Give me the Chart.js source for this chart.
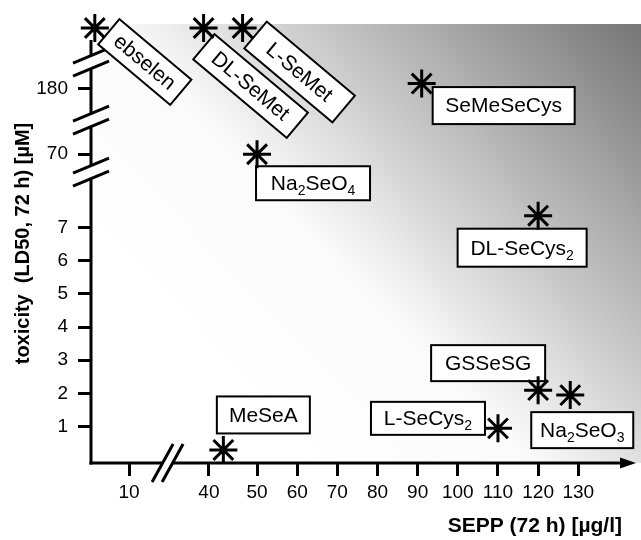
<!DOCTYPE html>
<html>
<head>
<meta charset="utf-8">
<script src="https://cdn.jsdelivr.net/npm/chart.js@4.4.0/dist/chart.umd.min.js"></script>
<style>
  html, body { margin: 0; padding: 0; background: #fff; }
  #wrap { width: 641px; height: 540px; }
</style>
</head>
<body>
<div id="wrap"><canvas id="chart"></canvas></div>
<script>
// compounds: SEPP (72 h) in µg/l vs. LD50 (72 h) in µM
const compounds = ['ebselen', 'DL-SeMet', 'L-SeMet', 'SeMeSeCys', 'Na2SeO4', 'DL-SeCys2', 'GSSeSG', 'Na2SeO3', 'L-SeCys2', 'MeSeA'];
const seppValues = [1, 38, 47, 91, 50, 120, 120, 128, 110, 43];
const ld50Values = [500, 500, 500, 186, 70, 7.35, 2.1, 1.95, 0.95, 0.3];

const xTickValues = [10, 40, 50, 60, 70, 80, 90, 100, 110, 120, 130];
const yTickValues = [1, 2, 3, 4, 5, 6, 7, 70, 180];

// broken axes: real value -> drawn axis unit
const xBreakReal = [0, 10, 40, 50, 130, 140];
const xBreakAxis = [0, 9.5, 29.4, 41.4, 121.5, 131.5];
const yBreakReal = [0, 8, 60, 80, 170, 200, 480, 520];
const yBreakAxis = [0, 8, 8.9, 9.5, 10.9, 11.7, 12.6, 13.4];

function toAxis(v, real, axis) {
    let i = 1;
    while (i < real.length - 1 && v > real[i]) i++;
    const t = (v - real[i - 1]) / (real[i] - real[i - 1]);
    return axis[i - 1] + t * (axis[i] - axis[i - 1]);
}

// where the break marks sit (axis units)
const xBreakMarks = [19.1];
const yBreakMarks = [8.66, 10.23, 11.97];

// label boxes: centre offset from the point, size, rotation
const labelLayout = [
    { dx: 50, dy: 34, w: 94, h: 33, rot: 40 },
    { dx: 47, dy: 58, w: 122, h: 33, rot: 40 },
    { dx: 57, dy: 44, w: 115, h: 35, rot: 40 },
    { dx: 82, dy: 22, w: 142, h: 37, rot: 0 },
    { dx: 56, dy: 29, w: 114, h: 34, rot: 0 },
    { dx: -16, dy: 32, w: 129, h: 38, rot: 0 },
    { dx: -50, dy: -27, w: 114, h: 36, rot: 0 },
    { dx: 12, dy: 35, w: 102, h: 36, rot: 0 },
    { dx: -70, dy: -10, w: 114, h: 33, rot: 0 },
    { dx: 40, dy: -35, w: 93, h: 37, rot: 0 }
];

const FONT = '"Liberation Sans", Arial, sans-serif';

function drawRich(ctx, text, x, y, size) {
    const runs = text.split(/(\d)/).filter(Boolean).map(s => ({ s, sub: /^\d$/.test(s) }));
    const main = size + 'px ' + FONT, small = Math.round(size * 0.68) + 'px ' + FONT;
    let total = 0;
    runs.forEach(r => { ctx.font = r.sub ? small : main; r.w = ctx.measureText(r.s).width; total += r.w; });
    let cx = x - total / 2;
    ctx.textAlign = 'left';
    ctx.textBaseline = 'middle';
    runs.forEach(r => {
        ctx.font = r.sub ? small : main;
        ctx.fillText(r.s, cx, r.sub ? y + 7 : y);
        cx += r.w;
    });
}

const decor = {
    id: 'decor',
    beforeDraw(chart) {
        const { ctx, chartArea: a } = chart;
        ctx.save();
        ctx.fillStyle = '#fff';
        ctx.fillRect(0, 0, chart.width, chart.height);
        const g = ctx.createLinearGradient(250, 400, 641, 24);
        g.addColorStop(0, '#ffffff');
        g.addColorStop(0.3, '#fafafa');
        g.addColorStop(1, '#767676');
        ctx.fillStyle = g;
        ctx.fillRect(a.left, a.top, chart.width - a.left, a.bottom - a.top);
        ctx.restore();
    },
    beforeDatasetsDraw(chart) {
        const { ctx, chartArea: a, scales: { x, y } } = chart;
        ctx.save();
        ctx.strokeStyle = '#000';
        ctx.fillStyle = '#000';
        ctx.lineWidth = 3;

        // y axis with breaks
        const ax = a.left, gapY = 6.5;
        const yb = yBreakMarks.map(v => y.getPixelForValue(v)).sort((p, q) => q - p);
        let from = a.bottom + 1.5;
        ctx.beginPath();
        yb.forEach(p => { ctx.moveTo(ax, from); ctx.lineTo(ax, p + gapY); from = p - gapY; });
        ctx.moveTo(ax, from); ctx.lineTo(ax, 40);
        ctx.stroke();
        ctx.beginPath();
        yb.forEach(p => {
            [p - gapY, p + gapY].forEach(c => { ctx.moveTo(ax - 18, c + 7.5); ctx.lineTo(ax + 18, c - 7.5); });
        });
        ctx.stroke();

        // x axis with break and arrow
        const ay = a.bottom, gapX = 5;
        const xb = xBreakMarks.map(v => x.getPixelForValue(v));
        let start = a.left - 1.5;
        ctx.beginPath();
        xb.forEach(p => { ctx.moveTo(start, ay); ctx.lineTo(p - gapX, ay); start = p + gapX; });
        ctx.moveTo(start, ay); ctx.lineTo(624, ay);
        ctx.stroke();
        ctx.beginPath();
        xb.forEach(p => {
            [p - gapX, p + gapX].forEach(c => { ctx.moveTo(c - 10.5, ay + 19); ctx.lineTo(c + 10.5, ay - 19); });
        });
        ctx.stroke();
        ctx.beginPath();
        ctx.moveTo(636, ay); ctx.lineTo(620, ay - 5.5); ctx.lineTo(620, ay + 5.5); ctx.closePath();
        ctx.fill();

        // label boxes
        const meta = chart.getDatasetMeta(0);
        compounds.forEach((name, i) => {
            const pt = meta.data[i], L = labelLayout[i];
            ctx.save();
            ctx.translate(pt.x + L.dx, pt.y + L.dy);
            ctx.rotate(L.rot * Math.PI / 180);
            ctx.fillStyle = '#fff';
            ctx.fillRect(-L.w / 2, -L.h / 2, L.w, L.h);
            ctx.lineWidth = 2;
            ctx.strokeRect(-L.w / 2, -L.h / 2, L.w, L.h);
            ctx.fillStyle = '#000';
            drawRich(ctx, name, 0, 1, 21);
            ctx.restore();
        });
        ctx.restore();
    }
};

const points = seppValues.map((v, i) => ({
    x: toAxis(v, xBreakReal, xBreakAxis),
    y: toAxis(ld50Values[i], yBreakReal, yBreakAxis)
}));

new Chart(document.getElementById('chart'), {
    type: 'scatter',
    data: {
        datasets: [{
            label: 'compounds',
            data: points,
            pointStyle: 'star',
            pointRadius: 14,
            pointHoverRadius: 14,
            borderColor: '#000',
            backgroundColor: '#000',
            borderWidth: 3,
            clip: false
        }]
    },
    options: {
        responsive: true,
        maintainAspectRatio: false,
        animation: false,
        layout: { padding: { top: 24, right: 19, left: 0, bottom: 0 } },
        plugins: { legend: { display: false }, tooltip: { enabled: false } },
        scales: {
            x: {
                type: 'linear', min: 0, max: 132.4,
                afterFit: s => { s.height = 77; },
                afterBuildTicks: s => { s.ticks = xTickValues.map(v => ({ value: toAxis(v, xBreakReal, xBreakAxis) })); },
                ticks: {
                    autoSkip: false, maxRotation: 0, padding: 5, color: '#000',
                    font: { family: FONT, size: 19 },
                    callback: (val, idx) => String(xTickValues[idx])
                },
                grid: { drawOnChartArea: false, drawTicks: true, tickLength: 13, lineWidth: 3, color: '#000' },
                border: { display: false },
                title: {
                    display: true, text: 'SEPP (72 h) [µg/l]', align: 'end', color: '#000',
                    font: { family: FONT, size: 21, weight: 'bold' }, padding: { top: 0, bottom: 1 }
                }
            },
            y: {
                type: 'linear', min: -0.093, max: 13.12,
                afterFit: s => { s.width = 91; },
                afterBuildTicks: s => { s.ticks = yTickValues.map(v => ({ value: toAxis(v, yBreakReal, yBreakAxis) })); },
                ticks: {
                    autoSkip: false, padding: 10, color: '#000',
                    font: { family: FONT, size: 19 },
                    callback: (val, idx) => String(yTickValues[idx])
                },
                grid: { drawOnChartArea: false, drawTicks: true, tickLength: 13, lineWidth: 3, color: '#000' },
                border: { display: false },
                title: {
                    display: true, text: 'toxicity  (LD50, 72 h) [µM]', color: '#000',
                    font: { family: FONT, size: 20, weight: 'bold' }, padding: { top: 11, bottom: 0 }
                }
            }
        }
    },
    plugins: [decor]
});
</script>
</body>
</html>
